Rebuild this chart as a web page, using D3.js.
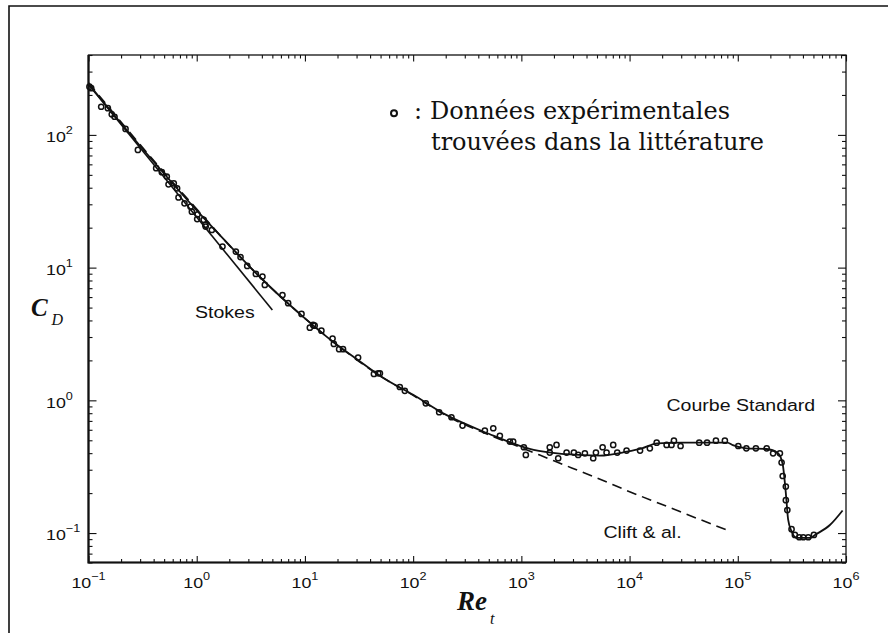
<!DOCTYPE html>
<html>
<head>
<meta charset="utf-8">
<script src="https://cdn.jsdelivr.net/npm/d3@7"></script>
<style>
  html, body { margin: 0; padding: 0; background: #fff; }
  svg { display: block; }
</style>
</head>
<body>
<svg id="chart" width="888" height="633"></svg>
<script>
// ---------- DATA ----------
const reTickValues = [0.1, 1, 10, 100, 1e3, 1e4, 1e5, 1e6];
const reTickExponents = ["\u22121", "0", "1", "2", "3", "4", "5", "6"];
const cdTickValues = [0.1, 1, 10, 100];
const cdTickExponents = ["\u22121", "0", "1", "2"];

// Standard drag curve (solid)
const stdRe = [0.1, 0.2, 0.3, 0.5, 1, 2, 3, 5, 10, 20, 30, 50, 100, 200, 500, 1000, 1300, 2600, 5300, 9400,
  13000, 18000, 30000, 80000, 90000, 120000, 185000, 235000, 260000, 278000, 292000, 314000, 350000,
  470000, 520000, 710000, 930000];
const stdCd = [242, 122, 82.5, 51, 27, 14.8, 10.4, 6.9, 4.15, 2.6, 2.05, 1.52, 1.1, 0.78, 0.56, 0.45, 0.423, 0.393, 0.383, 0.41,
  0.435, 0.474, 0.48, 0.48, 0.46, 0.435, 0.43, 0.40, 0.33, 0.20, 0.126, 0.103, 0.092,
  0.092, 0.097, 0.115, 0.148];

// Stokes law (solid straight line)
const stokesRe = [0.1, 5];
const stokesCd = [240, 4.8];

// Clift & al. (dashed)
const cliftRe = [0.1, 0.2, 0.5, 1, 2, 5, 10, 20, 50, 100, 200, 500, 1000, 2000, 5000, 10000, 20000, 50000, 80000];
const cliftCd = [247, 125, 52, 27.6, 14.7, 6.9, 4.15, 2.6, 1.52, 1.09, 0.77, 0.55, 0.44, 0.35, 0.26, 0.205, 0.164, 0.122, 0.105];

// Experimental points (open circles)
const expRe = [0.102, 0.106, 0.131, 0.151, 0.164, 0.174, 0.22, 0.286, 0.422, 0.476, 0.529, 0.549, 0.614, 0.659, 0.679,
  0.771, 0.877, 0.902, 1.02, 1.01, 1.16, 1.2, 1.38, 1.21, 1.73, 2.3, 2.54, 2.93, 3.52, 4.05, 4.26, 6.2, 7.0, 9.3,
  11.1, 11.9, 12.3, 14.2, 18.0, 18.5, 20.7, 22.5, 31, 43.4, 47.5, 49.3, 75.3, 83.8, 131, 174, 226, 286, 460, 550,
  633, 783, 840, 1055, 1100, 1830, 1830, 2113, 2190, 2617, 3057, 3350, 3864, 4613, 4888, 5636, 6130, 7060, 7690,
  9380, 12500, 15400, 17800, 22000, 24400, 25700, 29600, 44000, 52000, 62800, 76000, 101000, 120000, 147000,
  185000, 212000, 245000, 254000, 260000, 278000, 278000, 287000, 314000, 337000, 370000, 403000, 448000, 505000];
const expCd = [231, 225, 163, 159, 143, 137, 111, 77, 56.1, 52.4, 48.6, 42.4, 43.2, 39.6, 33.8,
  30.5, 28.8, 26.4, 25.2, 23.2, 22.9, 21.0, 19.2, 20.4, 14.4, 13.2, 12.0, 10.3, 8.97, 8.56, 7.41, 6.22, 5.4, 4.48,
  3.53, 3.7, 3.65, 3.35, 2.92, 2.66, 2.43, 2.43, 2.1, 1.58, 1.6, 1.6, 1.26, 1.18, 0.95, 0.813, 0.746, 0.645, 0.592, 0.616,
  0.54, 0.489, 0.489, 0.443, 0.388, 0.443, 0.404, 0.461, 0.366, 0.404, 0.404, 0.388, 0.399, 0.366, 0.404, 0.443, 0.404, 0.461, 0.404,
  0.418, 0.418, 0.435, 0.48, 0.461, 0.461, 0.497, 0.453, 0.48, 0.48, 0.497, 0.497, 0.453, 0.435, 0.435,
  0.435, 0.399, 0.399, 0.34, 0.269, 0.224, 0.177, 0.149, 0.107, 0.0968, 0.093, 0.093, 0.093, 0.0968];

const annotations = ["Stokes", "Courbe Standard", "Clift & al."];
const legendLines = ["Données expérimentales", "trouvées dans la littérature"];

// ---------- DRAWING ----------
(function () {
const svg = d3.select("#chart");
const pL = 88.5, pR = 846, pT = 55, pB = 562.5;
const x = d3.scaleLog().domain([0.1, 1e6]).range([pL, pR]);
const y = d3.scaleLog().domain([0.06, 400]).range([pB, pT]);
const SANS = "'Liberation Sans', Arial, Helvetica, sans-serif";
const SERIF = "'Liberation Serif', 'Times New Roman', serif";
const STRETCH = 1.15;

svg.append("rect").attr("width", 888).attr("height", 633).attr("fill", "#fff");

// outer figure frame (top and left edges visible)
svg.append("path").attr("d", "M9,700V6H900")
  .attr("fill", "none").attr("stroke", "#111").attr("stroke-width", 1.6);

const isMajor = v => Math.abs(Math.log10(v) - Math.round(Math.log10(v))) < 1e-9;
const xMinor = x.ticks().filter(v => !isMajor(v));
const yMinor = y.ticks().filter(v => !isMajor(v));

function tickAxis(axisFn, scale, values, size, tx, ty) {
  const g = svg.append("g").attr("transform", `translate(${tx},${ty})`)
    .call(axisFn(scale).tickValues(values).tickSizeInner(-size).tickSizeOuter(0).tickFormat(""));
  g.select(".domain").remove();
  g.selectAll("line").attr("stroke", "#111").attr("stroke-width", 1.1);
}
tickAxis(d3.axisBottom, x, reTickValues, 6.5, 0, pB);
tickAxis(d3.axisBottom, x, xMinor, 3.5, 0, pB);
tickAxis(d3.axisTop, x, reTickValues, 6.5, 0, pT);
tickAxis(d3.axisTop, x, xMinor, 3.5, 0, pT);
tickAxis(d3.axisLeft, y, cdTickValues, 8, pL, 0);
tickAxis(d3.axisLeft, y, yMinor, 4, pL, 0);
tickAxis(d3.axisRight, y, cdTickValues, 8, pR, 0);
tickAxis(d3.axisRight, y, yMinor, 4, pR, 0);

// plot frame
svg.append("rect").attr("x", pL).attr("y", pT).attr("width", pR - pL).attr("height", pB - pT)
  .attr("fill", "none").attr("stroke", "#111").attr("stroke-width", 1.3);
svg.append("path").attr("d", `M${pL},${pT}V${pB}H${pR}`)
  .attr("fill", "none").attr("stroke", "#111").attr("stroke-width", 2.2);

// tick labels
function powerLabel(px, py, exp, anchor) {
  const t = svg.append("text")
    .attr("transform", `translate(${px},${py}) scale(${STRETCH},1)`)
    .attr("font-family", SANS).attr("font-size", 15.5).attr("fill", "#111")
    .attr("text-anchor", anchor);
  t.append("tspan").text("10");
  t.append("tspan").attr("dy", -8).attr("font-size", 11).text(exp);
}
reTickValues.forEach((v, i) => powerLabel(x(v), 588.3, reTickExponents[i], "middle"));
cdTickValues.forEach((v, i) => powerLabel(46, y(v) + 7.3, cdTickExponents[i], "start"));

// lines
const line = d3.line().x(d => x(d[0])).y(d => y(d[1])).curve(d3.curveMonotoneX);
const pairs = (a, b) => a.map((v, i) => [v, b[i]]);

svg.append("path").datum(pairs(cliftRe, cliftCd)).attr("d", line)
  .attr("fill", "none").attr("stroke", "#111").attr("stroke-width", 1.6).attr("stroke-dasharray", "10,6");
svg.append("path").datum(pairs(stokesRe, stokesCd)).attr("d", d3.line().x(d => x(d[0])).y(d => y(d[1])))
  .attr("fill", "none").attr("stroke", "#111").attr("stroke-width", 1.6);
svg.append("path").datum(pairs(stdRe, stdCd)).attr("d", line)
  .attr("fill", "none").attr("stroke", "#111").attr("stroke-width", 1.8);

// experimental circles
svg.append("g").selectAll("circle").data(pairs(expRe, expCd)).join("circle")
  .attr("cx", d => x(d[0])).attr("cy", d => y(d[1])).attr("r", 2.6)
  .attr("fill", "none").attr("stroke", "#111").attr("stroke-width", 1.5);

// annotations
function stretchedText(px, py, str, size) {
  svg.append("text").attr("transform", `translate(${px},${py}) scale(${STRETCH},1)`)
    .attr("font-family", SANS).attr("font-size", size).attr("fill", "#111").text(str);
}
stretchedText(195, 318, annotations[0], 17);
stretchedText(666.5, 410.7, annotations[1], 17);
stretchedText(603.5, 538.3, annotations[2], 17);

// legend
svg.append("circle").attr("cx", 394).attr("cy", 113.3).attr("r", 3)
  .attr("fill", "none").attr("stroke", "#111").attr("stroke-width", 2);
svg.append("text").attr("x", 414).attr("y", 119.3).attr("font-family", "'DejaVu Serif', serif")
  .attr("font-size", 24).attr("fill", "#111").text(":");
svg.append("text").attr("x", 430).attr("y", 119.3).attr("font-family", "'DejaVu Serif', serif")
  .attr("font-size", 24).attr("fill", "#111").text(legendLines[0]);
svg.append("text").attr("x", 431).attr("y", 150).attr("font-family", "'DejaVu Serif', serif")
  .attr("font-size", 24).attr("fill", "#111").text(legendLines[1]);

// axis titles
svg.append("text").attr("x", 31).attr("y", 316).attr("font-family", SERIF)
  .attr("font-size", 25).attr("font-weight", "bold").attr("font-style", "italic").attr("fill", "#111").text("C");
svg.append("text").attr("x", 51.5).attr("y", 325).attr("font-family", SERIF)
  .attr("font-size", 16).attr("font-style", "italic").attr("fill", "#111").text("D");
svg.append("text").attr("x", 457).attr("y", 610).attr("font-family", SERIF)
  .attr("font-size", 27).attr("font-weight", "bold").attr("font-style", "italic").attr("fill", "#111").text("Re");
svg.append("text").attr("x", 490).attr("y", 624).attr("font-family", SERIF)
  .attr("font-size", 16).attr("font-style", "italic").attr("fill", "#111").text("t");
})();
</script>
</body>
</html>
